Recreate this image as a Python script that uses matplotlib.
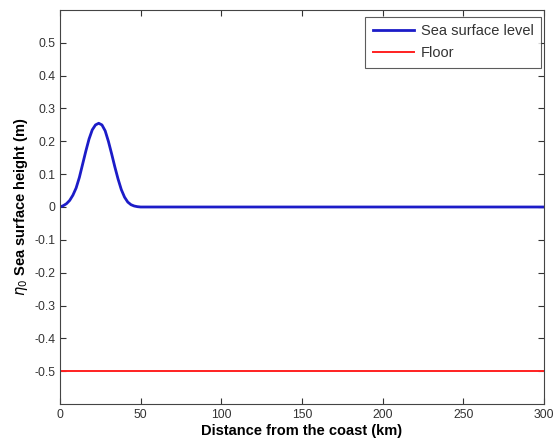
import matplotlib
matplotlib.use("Agg")
import matplotlib.pyplot as plt

# Data
distance_km = [0, 2, 4, 6, 8, 10, 12, 14, 16, 18, 20, 22, 24, 26, 28, 30, 32, 34,
               36, 38, 40, 42, 44, 46, 48, 50, 88, 300]
surface_m = [0.0, 0.004, 0.01, 0.02, 0.036, 0.058, 0.09, 0.13, 0.17, 0.207, 0.235,
             0.25, 0.255, 0.25, 0.232, 0.2, 0.162, 0.122, 0.085, 0.053, 0.03,
             0.015, 0.007, 0.003, 0.001, 0.0, 0.0, 0.0]
floor_x = [0, 300]
floor_m = [-0.5, -0.5]
xticks = [0, 50, 100, 150, 200, 250, 300]
yticks = [-0.5, -0.4, -0.3, -0.2, -0.1, 0, 0.1, 0.2, 0.3, 0.4, 0.5]
ytick_labels = ["-0.5", "-0.4", "-0.3", "-0.2", "-0.1", "0", "0.1", "0.2", "0.3", "0.4", "0.5"]

plt.rcParams['font.family'] = ['Liberation Sans', 'DejaVu Sans']

W, H = 555, 446
L, R, T, B = 60, 544, 10, 404
fig = plt.figure(figsize=(W/100, H/100), dpi=100)
ax = fig.add_axes([L/W, 1-B/H, (R-L)/W, (B-T)/H])

ax.plot(distance_km, surface_m, color='#1c1cc8', lw=2.0, label='Sea surface level')
ax.plot(floor_x, floor_m, color='#ff2020', lw=1.4, label='Floor')

ax.set_xlim(0, 300)
ax.set_ylim(-0.6, 0.6)
ax.set_xticks(xticks)
ax.set_yticks(yticks)
ax.set_yticklabels(ytick_labels)
ax.tick_params(direction='in', top=True, right=True, labelsize=8.8, colors='#333333',
               length=4, width=0.8)
for s in ax.spines.values():
    s.set_color('#444444')
    s.set_linewidth(0.8)

ax.set_xlabel('Distance from the coast (km)', fontsize=10.5, fontweight='bold', labelpad=2)
ax.set_ylabel(r'$\eta_0$ Sea surface height (m)', fontsize=10.5, fontweight='bold', labelpad=3)

leg = ax.legend(loc='upper right', bbox_to_anchor=((541-L)/(R-L), 1-(17-T)/(B-T)),
                fontsize=10.5, frameon=True, fancybox=False,
                edgecolor='#333333', borderaxespad=0.0, handlelength=2.8,
                handletextpad=0.5, borderpad=0.5, labelspacing=0.55)
leg.get_frame().set_linewidth(0.8)
for t in leg.get_texts():
    t.set_color('#333333')

fig.savefig('out.png', dpi=100)
